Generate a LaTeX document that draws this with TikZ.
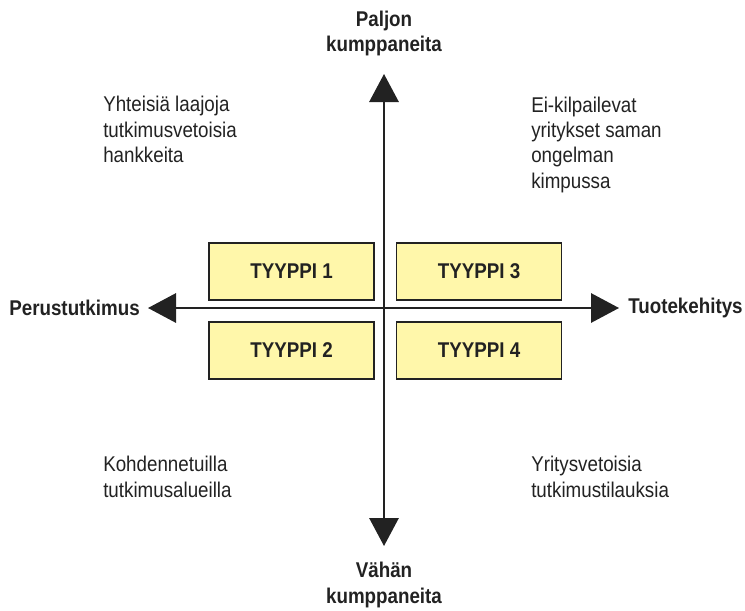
\documentclass[tikz,border=0pt]{standalone}
\usepackage{fontspec}
\setmainfont{Liberation Sans}[FakeStretch=0.88]
\usepackage{tikz}
\usetikzlibrary{arrows.meta}

\definecolor{boxfill}{RGB}{255,247,170}
\definecolor{ink}{RGB}{34,34,34}

\tikzset{
  axisline/.style={line width=1.5pt,draw=ink,{Triangle[length=21pt,width=22pt]}-{Triangle[length=21pt,width=22pt]}},
  typebox/.style={draw=ink,line width=1pt,fill=boxfill,minimum width=123.75pt,minimum height=42.75pt,inner sep=0pt,font=\fontsize{16}{19}\selectfont\bfseries,text=ink},
  axislabel/.style={inner sep=0pt,align=center,font=\fontsize{16}{19}\selectfont\bfseries,text=ink},
  cornertext/.style={inner sep=0pt,align=left,anchor=base west,font=\fontsize{16}{19}\selectfont,text=ink}
}

\begin{document}
\begin{tikzpicture}[x=0.75pt,y=0.75pt,yscale=-1,xscale=1]
\path[use as bounding box] (0,0) rectangle (745,610);

%Axis ends
\coordinate (up) at (384,74);
\coordinate (down) at (384,546);
\coordinate (west) at (148,308);
\coordinate (east) at (619,308);

%Axes
\draw[axisline] (down) -- (up);
\draw[axisline] (west) -- (east);

%Boxes
\node[typebox] (t1) at (291.5,271.5) {TYYPPI 1};
\node[typebox] (t3) at (479,271.5) {TYYPPI 3};
\node[typebox] (t2) at (291.5,350.5) {TYYPPI 2};
\node[typebox] (t4) at (479,350.5) {TYYPPI 4};

% Axis labels (base = last line)
\node[axislabel,anchor=base] (many) at (384,51.5) {Paljon\\kumppaneita};
\node[axislabel,anchor=base] (few) at (384,603) {Vähän\\kumppaneita};
\node[axislabel,anchor=east] (basic) at (140,308) {Perustutkimus};
\node[axislabel,anchor=west] (product) at (628,308) {Tuotekehitys};

% Corner texts (base = last line)
\node[cornertext] (q1) at (103,162.5) {Yhteisiä laajoja\\tutkimusvetoisia\\hankkeita};
\node[cornertext] (q2) at (531,188) {Ei-kilpailevat\\yritykset saman\\ongelman\\kimpussa};
\node[cornertext] (q3) at (103,497) {Kohdennetuilla\\tutkimusalueilla};
\node[cornertext] (q4) at (531,497) {Yritysvetoisia\\tutkimustilauksia};

\end{tikzpicture}
\end{document}
